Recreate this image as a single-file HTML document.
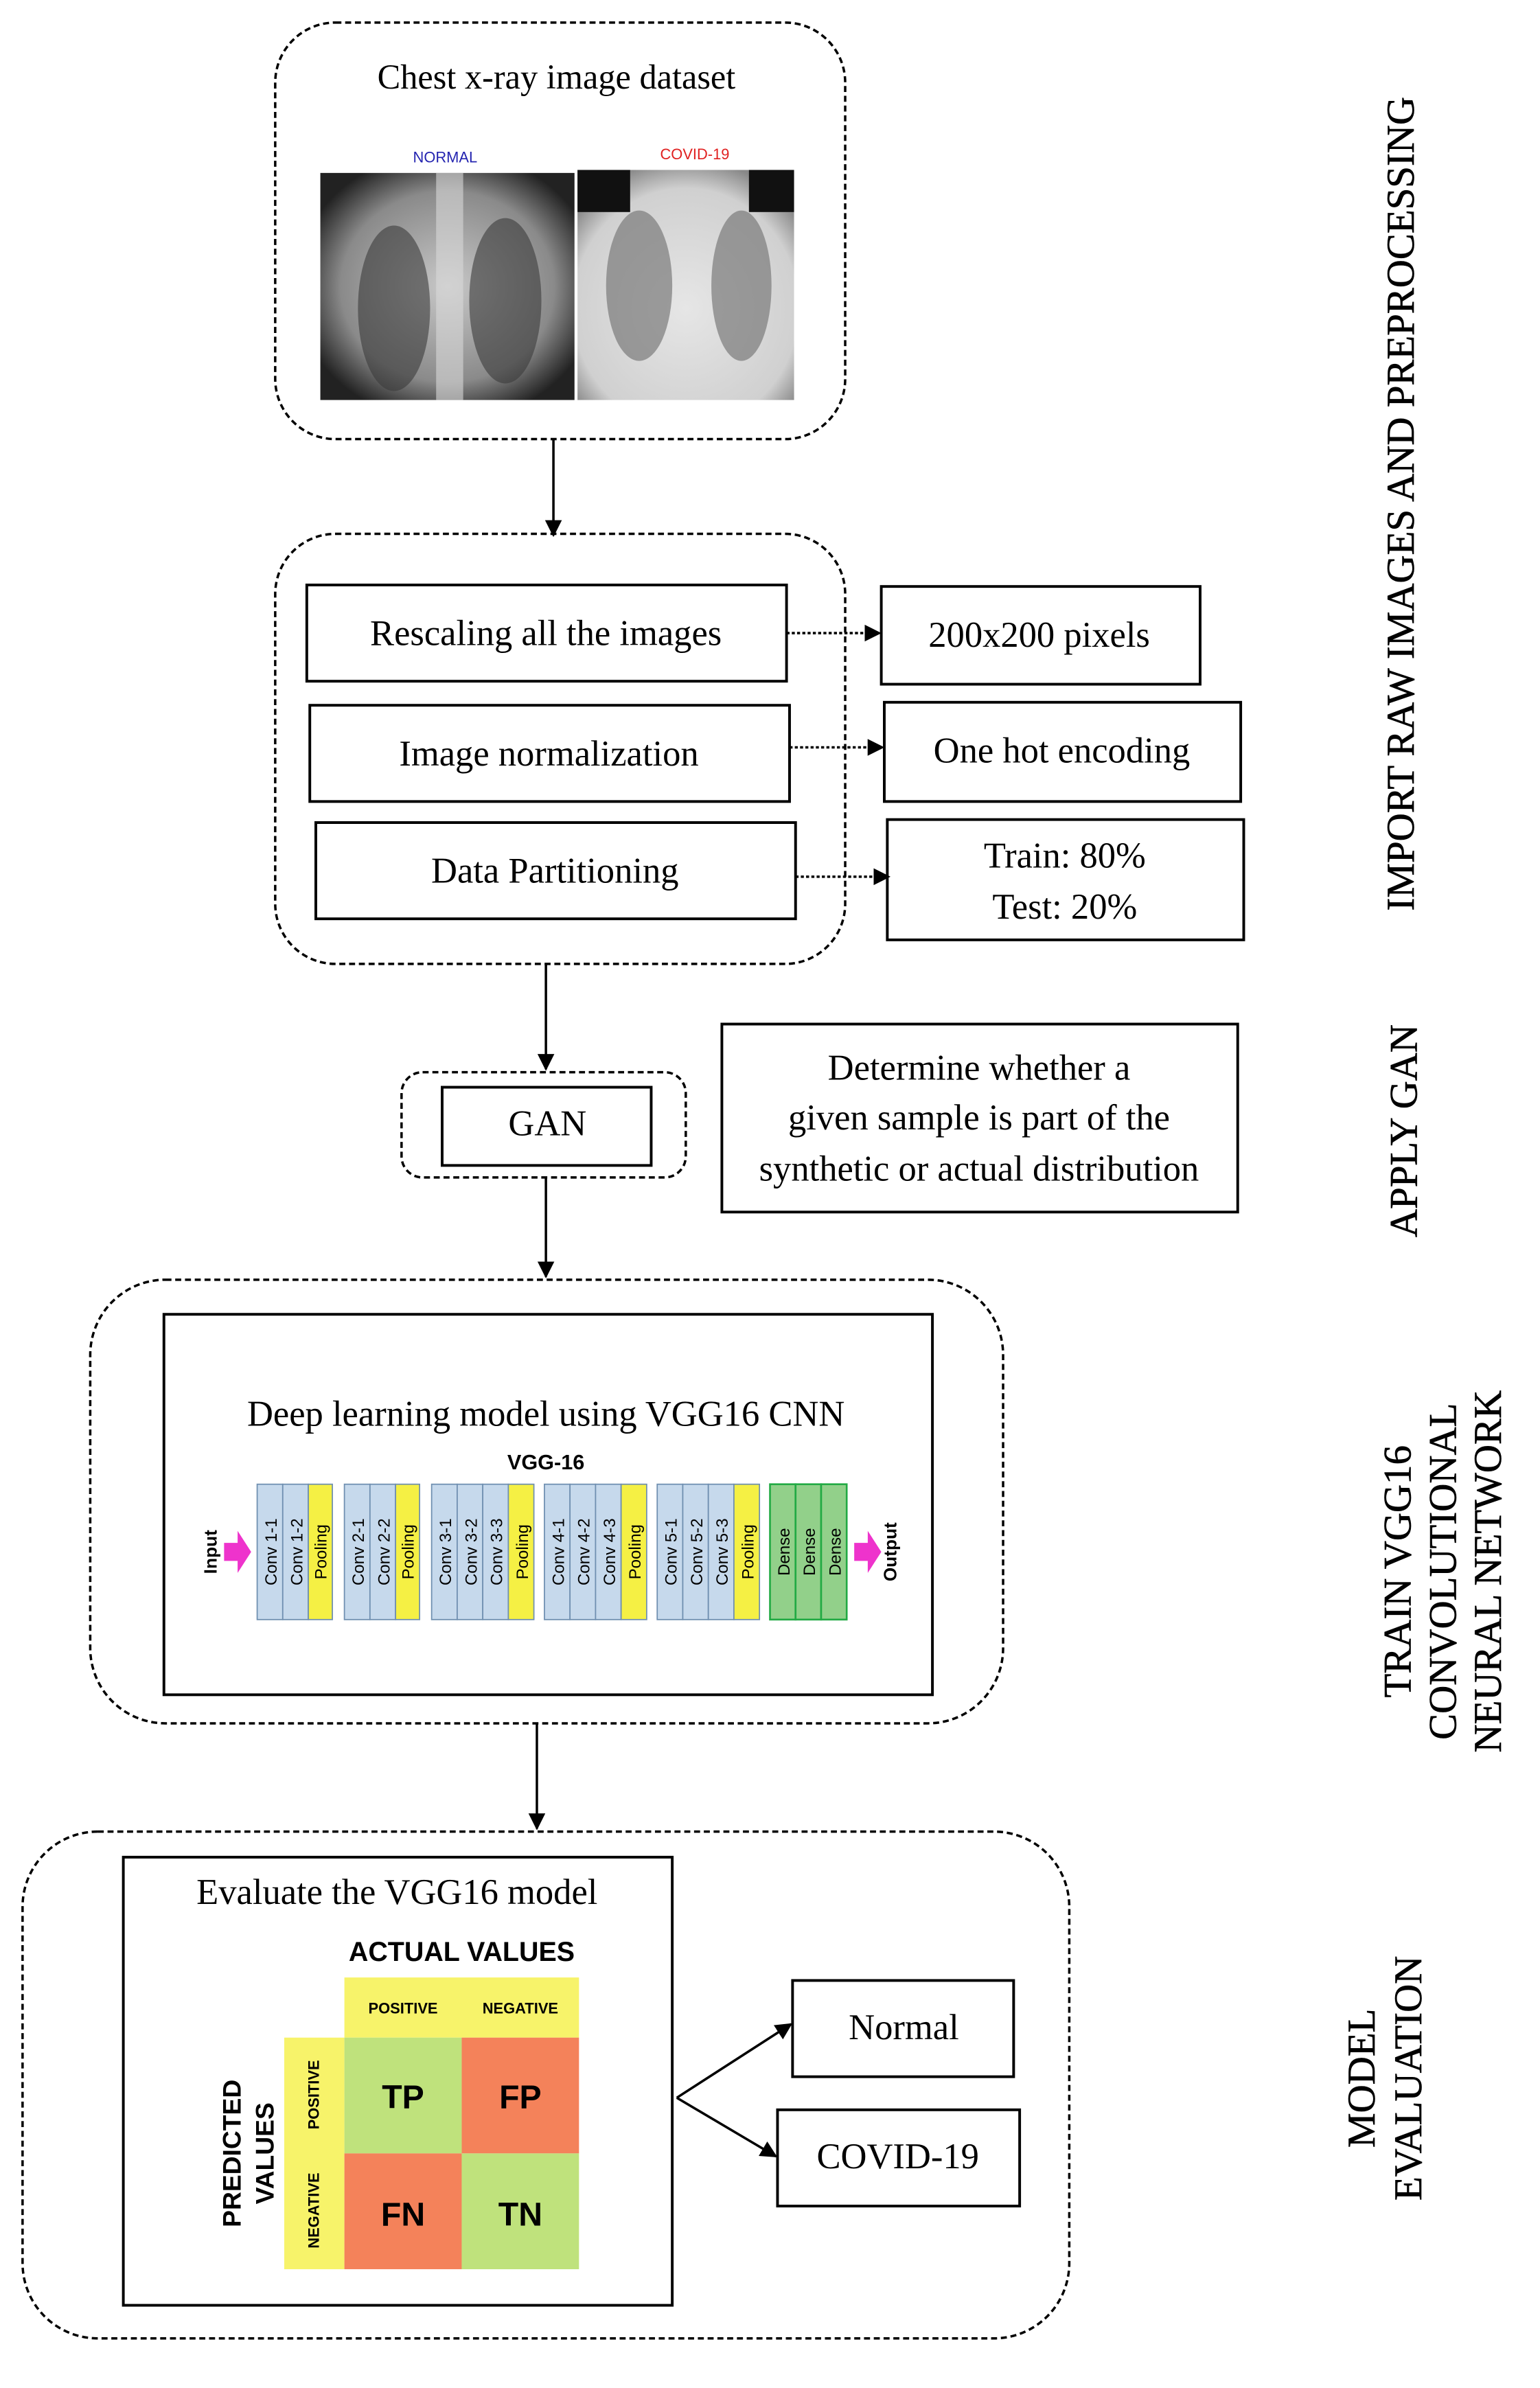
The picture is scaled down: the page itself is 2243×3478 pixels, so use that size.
<!DOCTYPE html>
<html><head><meta charset="utf-8"><style>
html,body{margin:0;padding:0;background:#fff;}
svg{display:block;}
.s{font-family:"Liberation Serif",serif;fill:#000;}
.a{font-family:"Liberation Sans",sans-serif;fill:#000;}
</style></head><body>
<svg width="2243" height="3478" viewBox="0 0 1024 1588" preserveAspectRatio="none" xmlns="http://www.w3.org/2000/svg">
<defs>
<marker id="ah" viewBox="0 0 10 10" refX="9" refY="5" markerWidth="7" markerHeight="7" orient="auto"><path d="M0,0 L10,5 L0,10 z" fill="#000"/></marker>
<radialGradient id="nbg" cx="50%" cy="50%" r="60%"><stop offset="0" stop-color="#c8c8c8"/><stop offset="0.7" stop-color="#8a8a8a"/><stop offset="1" stop-color="#222"/></radialGradient>
<radialGradient id="cbg" cx="50%" cy="60%" r="65%"><stop offset="0" stop-color="#e6e6e6"/><stop offset="0.8" stop-color="#d0d0d0"/><stop offset="1" stop-color="#888"/></radialGradient>
</defs>
<g fill="none" stroke="#000" stroke-width="1.6" stroke-dasharray="4,2.5">
<rect x="183" y="15" width="379" height="277" rx="40"/>
<rect x="183" y="355" width="379" height="286" rx="40"/>
<rect x="267" y="713" width="189" height="70" rx="14"/>
<rect x="60" y="851" width="607" height="295" rx="50"/>
<rect x="15" y="1218" width="696" height="337" rx="50"/>
</g>
<text class="s" x="370" y="59" font-size="23" text-anchor="middle">Chest x-ray image dataset</text>
<text class="a" x="296" y="108" font-size="10" text-anchor="middle" style="fill:#2424b0">NORMAL</text>
<text class="a" x="462" y="106" font-size="10" text-anchor="middle" style="fill:#e02020">COVID-19</text>
<rect x="213" y="115" width="169" height="151" fill="url(#nbg)"/>
<ellipse cx="262" cy="205" rx="24" ry="55" fill="#3a3a3a" opacity="0.6"/>
<ellipse cx="336" cy="200" rx="24" ry="55" fill="#3a3a3a" opacity="0.6"/>
<rect x="290" y="115" width="18" height="151" fill="#d8d8d8" opacity="0.6"/>
<rect x="384" y="113" width="144" height="153" fill="url(#cbg)"/>
<rect x="384" y="113" width="35" height="28" fill="#111"/>
<rect x="498" y="113" width="30" height="28" fill="#111"/>
<ellipse cx="425" cy="190" rx="22" ry="50" fill="#7a7a7a" opacity="0.7"/>
<ellipse cx="493" cy="190" rx="20" ry="50" fill="#7a7a7a" opacity="0.7"/>
<g stroke="#000" stroke-width="1.8" fill="#fff">
<rect x="204" y="389" width="319" height="64"/>
<rect x="206" y="469" width="319" height="64"/>
<rect x="210" y="547" width="319" height="64"/>
<rect x="586" y="390" width="212" height="65"/>
<rect x="588" y="467" width="237" height="66"/>
<rect x="590" y="545" width="237" height="80"/>
<rect x="294" y="723" width="139" height="52"/>
<rect x="480" y="681" width="343" height="125"/>
<rect x="109" y="874" width="511" height="253"/>
<rect x="82" y="1235" width="365" height="298"/>
<rect x="527" y="1317" width="147" height="64"/>
<rect x="517" y="1403" width="161" height="64"/>
</g>
<g class="s" font-size="24" text-anchor="middle">
<text x="363" y="429">Rescaling all the images</text>
<text x="365" y="509">Image normalization</text>
<text x="369" y="587">Data Partitioning</text>
<text x="691" y="430">200x200 pixels</text>
<text x="706" y="507">One hot encoding</text>
<text x="708" y="577">Train: 80%</text>
<text x="708" y="611">Test: 20%</text>
<text x="364" y="755">GAN</text>
<text x="651" y="718">Determine whether a</text>
<text x="651" y="751">given sample is part of the</text>
<text x="651" y="785">synthetic or actual distribution</text>
<text x="363" y="948">Deep learning model using VGG16 CNN</text>
<text x="264" y="1266">Evaluate the VGG16 model</text>
<text x="601" y="1356">Normal</text>
<text x="597" y="1442">COVID-19</text>
</g>
<g stroke="#000" stroke-width="1.6" fill="none" marker-end="url(#ah)">
<line x1="368" y1="292" x2="368" y2="356"/>
<line x1="363" y1="641" x2="363" y2="711"/>
<line x1="363" y1="783" x2="363" y2="849"/>
<line x1="357" y1="1146" x2="357" y2="1216"/>
<line x1="450" y1="1395" x2="526" y2="1346"/>
<line x1="450" y1="1395" x2="516" y2="1434"/>
</g>
<g stroke="#000" stroke-width="1.6" fill="none" stroke-dasharray="2,1.5" marker-end="url(#ah)">
<line x1="523" y1="421" x2="585" y2="421"/>
<line x1="525" y1="497" x2="587" y2="497"/>
<line x1="529" y1="583" x2="591" y2="583"/>
</g>
<text class="a" x="363" y="977" font-size="14" font-weight="bold" text-anchor="middle">VGG-16</text>
<g stroke="#6f8fb0" stroke-width="0.8">
<rect x="171" y="987" width="17" height="90" fill="#c6d9ec"/><rect x="188" y="987" width="17" height="90" fill="#c6d9ec"/><rect x="205" y="987" width="16" height="90" fill="#f5f044"/>
<rect x="229" y="987" width="17" height="90" fill="#c6d9ec"/><rect x="246" y="987" width="17" height="90" fill="#c6d9ec"/><rect x="263" y="987" width="16" height="90" fill="#f5f044"/>
<rect x="287" y="987" width="17" height="90" fill="#c6d9ec"/><rect x="304" y="987" width="17" height="90" fill="#c6d9ec"/><rect x="321" y="987" width="17" height="90" fill="#c6d9ec"/><rect x="338" y="987" width="17" height="90" fill="#f5f044"/>
<rect x="362" y="987" width="17" height="90" fill="#c6d9ec"/><rect x="379" y="987" width="17" height="90" fill="#c6d9ec"/><rect x="396" y="987" width="17" height="90" fill="#c6d9ec"/><rect x="413" y="987" width="17" height="90" fill="#f5f044"/>
<rect x="437" y="987" width="17" height="90" fill="#c6d9ec"/><rect x="454" y="987" width="17" height="90" fill="#c6d9ec"/><rect x="471" y="987" width="17" height="90" fill="#c6d9ec"/><rect x="488" y="987" width="17" height="90" fill="#f5f044"/>
</g>
<g stroke="#22aa44" stroke-width="1.2" fill="#92d08a">
<rect x="512" y="987" width="17" height="90"/><rect x="529" y="987" width="17" height="90"/><rect x="546" y="987" width="17" height="90"/>
</g>
<g class="a" font-size="11">
<g transform="translate(184,1032) rotate(-90)"><text text-anchor="middle">Conv 1-1</text></g>
<g transform="translate(201,1032) rotate(-90)"><text text-anchor="middle">Conv 1-2</text></g>
<g transform="translate(217,1032) rotate(-90)"><text text-anchor="middle">Pooling</text></g>
<g transform="translate(242,1032) rotate(-90)"><text text-anchor="middle">Conv 2-1</text></g>
<g transform="translate(259,1032) rotate(-90)"><text text-anchor="middle">Conv 2-2</text></g>
<g transform="translate(275,1032) rotate(-90)"><text text-anchor="middle">Pooling</text></g>
<g transform="translate(300,1032) rotate(-90)"><text text-anchor="middle">Conv 3-1</text></g>
<g transform="translate(317,1032) rotate(-90)"><text text-anchor="middle">Conv 3-2</text></g>
<g transform="translate(334,1032) rotate(-90)"><text text-anchor="middle">Conv 3-3</text></g>
<g transform="translate(351,1032) rotate(-90)"><text text-anchor="middle">Pooling</text></g>
<g transform="translate(375,1032) rotate(-90)"><text text-anchor="middle">Conv 4-1</text></g>
<g transform="translate(392,1032) rotate(-90)"><text text-anchor="middle">Conv 4-2</text></g>
<g transform="translate(409,1032) rotate(-90)"><text text-anchor="middle">Conv 4-3</text></g>
<g transform="translate(426,1032) rotate(-90)"><text text-anchor="middle">Pooling</text></g>
<g transform="translate(450,1032) rotate(-90)"><text text-anchor="middle">Conv 5-1</text></g>
<g transform="translate(467,1032) rotate(-90)"><text text-anchor="middle">Conv 5-2</text></g>
<g transform="translate(484,1032) rotate(-90)"><text text-anchor="middle">Conv 5-3</text></g>
<g transform="translate(501,1032) rotate(-90)"><text text-anchor="middle">Pooling</text></g>
<g transform="translate(525,1032) rotate(-90)"><text text-anchor="middle">Dense</text></g>
<g transform="translate(542,1032) rotate(-90)"><text text-anchor="middle">Dense</text></g>
<g transform="translate(559,1032) rotate(-90)"><text text-anchor="middle">Dense</text></g>
<g transform="translate(144,1032) rotate(-90)"><text text-anchor="middle" font-weight="bold" font-size="12">Input</text></g>
<g transform="translate(596,1032) rotate(-90)"><text text-anchor="middle" font-weight="bold" font-size="12">Output</text></g>
</g>
<path d="M149,1026 L158,1026 L158,1018 L167,1032 L158,1046 L158,1038 L149,1038 z" fill="#ee33cc"/>
<path d="M568,1026 L577,1026 L577,1018 L586,1032 L577,1046 L577,1038 L568,1038 z" fill="#ee33cc"/>
<text class="a" x="307" y="1304" font-size="18" font-weight="bold" text-anchor="middle">ACTUAL VALUES</text>
<rect x="229" y="1315" width="156" height="40" fill="#f7f36a"/>
<rect x="189" y="1355" width="40" height="154" fill="#f7f36a"/>
<rect x="229" y="1355" width="78" height="77" fill="#bfe27c"/>
<rect x="307" y="1355" width="78" height="77" fill="#f4825a"/>
<rect x="229" y="1432" width="78" height="77" fill="#f4825a"/>
<rect x="307" y="1432" width="78" height="77" fill="#bfe27c"/>
<g class="a" font-size="10" font-weight="bold">
<text x="268" y="1339" text-anchor="middle">POSITIVE</text>
<text x="346" y="1339" text-anchor="middle">NEGATIVE</text>
<g transform="translate(212,1393) rotate(-90)"><text text-anchor="middle">POSITIVE</text></g>
<g transform="translate(212,1470) rotate(-90)"><text text-anchor="middle">NEGATIVE</text></g>
</g>
<g class="a" font-size="22" font-weight="bold" text-anchor="middle">
<text x="268" y="1402">TP</text><text x="346" y="1402">FP</text>
<text x="268" y="1480">FN</text><text x="346" y="1480">TN</text>
</g>
<g class="a" font-size="17" font-weight="bold" text-anchor="middle" transform="translate(160,1432) rotate(-90)">
<text x="0" y="0">PREDICTED</text><text x="0" y="22">VALUES</text>
</g>
<g class="s" font-size="26" text-anchor="middle" stroke="#000" stroke-width="0.3">
<g transform="translate(940,335) rotate(-90)"><text>IMPORT RAW IMAGES AND PREPROCESSING</text></g>
<g transform="translate(942,752) rotate(-90)"><text>APPLY GAN</text></g>
<g transform="translate(938,1045) rotate(-90)"><text x="0" y="0">TRAIN VGG16</text><text x="0" y="30">CONVOLUTIONAL</text><text x="0" y="60">NEURAL NETWORK</text></g>
<g transform="translate(914,1382) rotate(-90)"><text x="0" y="0">MODEL</text><text x="0" y="31">EVALUATION</text></g>
</g>
</svg>
</body></html>
